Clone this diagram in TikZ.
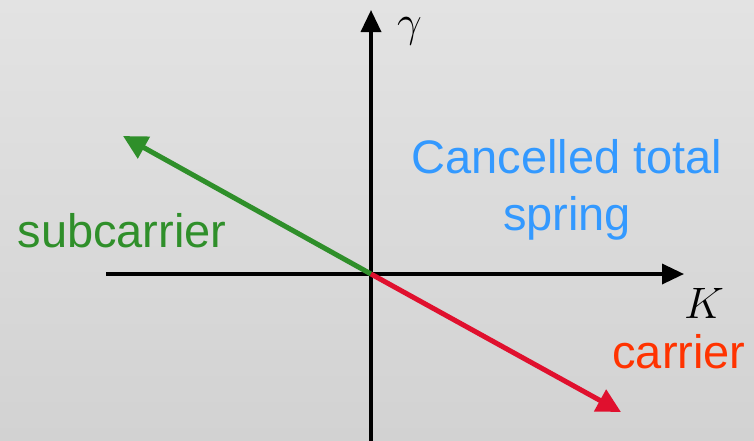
\RequirePackage{fix-cm}
\documentclass[tikz,border=0pt]{standalone}
\usepackage{fontspec}
\setmainfont{Liberation Sans}
\definecolor{bgtop}{HTML}{E3E3E3}
\definecolor{bgbot}{HTML}{D2D2D2}
\definecolor{subcol}{HTML}{2F8F2A}
\definecolor{carcol}{HTML}{E0102E}
\definecolor{cartxt}{HTML}{FF3300}
\definecolor{springcol}{HTML}{3399FF}
\usetikzlibrary{arrows.meta}

\begin{document}
\begin{tikzpicture}[
  x=1pt, y=-1pt,
  axis/.style={line width=3.5pt, -{Triangle[length=22pt, width=20pt]}},
  vec/.style={line width=5pt, -{Triangle[length=24pt, width=24pt]}},
  lab/.style={font=\fontsize{47}{56}\selectfont, anchor=base, inner sep=0pt},
  axlab/.style={font=\fontsize{44}{50}\selectfont, inner sep=0pt},
]

% background
\path[use as bounding box, top color=bgtop, bottom color=bgbot]
  (0,0) rectangle (754,440);

% axes
\coordinate (O) at (371,274);
\coordinate (xl) at (106,274);
\coordinate (xr) at (684,274);
\coordinate (yb) at (371,445);
\coordinate (yt) at (371,10);
\draw[axis] (xl) -- (xr);
\draw[axis] (yb) -- (yt);
\node[axlab, anchor=north west] (gam) at (397,17) {$\gamma$};
\node[axlab, anchor=base west] (kk) at (684,318) {$K$};

% vectors
\coordinate (subtip) at (123,136);
\coordinate (cartip) at (621,412);
\draw[vec, subcol] (O) -- (subtip);
\draw[vec, carcol] (O) -- (cartip);

% labels
\node[lab, text=subcol] (sub) at (122,247) {subcarrier};
\node[lab, text=cartxt] (car) at (679,368) {carrier};
\node[lab, text=springcol] (canc) at (567,173) {Cancelled total};
\node[lab, text=springcol] (spr) at (567,230) {spring};

\end{tikzpicture}
\end{document}
